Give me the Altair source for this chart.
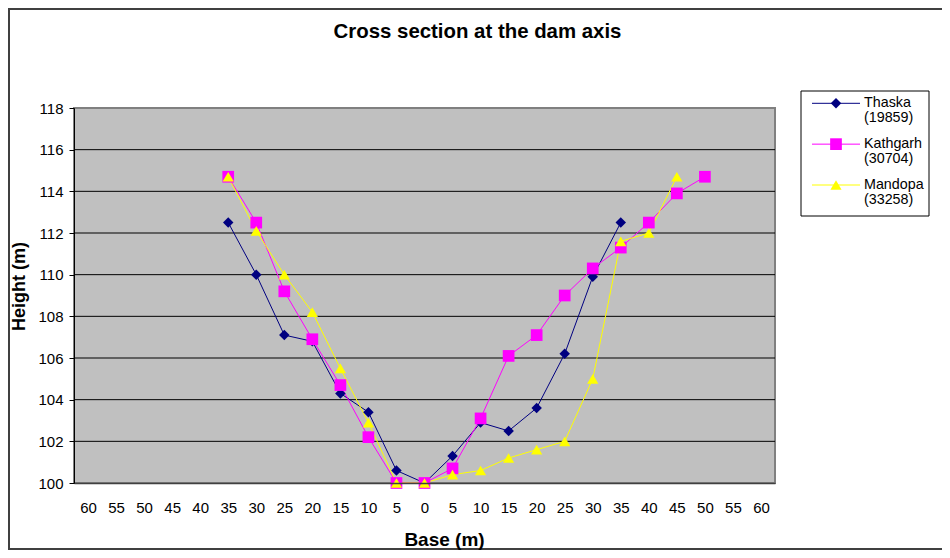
import altair as alt
import pandas as pd

# Category axis: distance from centre line (left side negative), labelled by absolute value
base_offsets = [-60, -55, -50, -45, -40, -35, -30, -25, -20, -15, -10, -5, 0,
                5, 10, 15, 20, 25, 30, 35, 40, 45, 50, 55, 60]
y_ticks = [100, 102, 104, 106, 108, 110, 112, 114, 116, 118]

series_names = ["Thaska (19859)", "Kathgarh (30704)", "Mandopa (33258)"]
series_colors = ["#000080", "#FF00FF", "#FFFF00"]
series_shapes = ["diamond", "square", "triangle-up"]
series_sizes = [110, 137, 125]

thaska_base = [-35, -30, -25, -20, -15, -10, -5, 0, 5, 10, 15, 20, 25, 30, 35]
thaska_height = [112.5, 110.0, 107.1, 106.8, 104.3, 103.4, 100.6, 100.0,
                 101.3, 102.9, 102.5, 103.6, 106.2, 109.9, 112.5]

kathgarh_base = [-35, -30, -25, -20, -15, -10, -5, 0, 5, 10, 15, 20, 25, 30,
                 35, 40, 45, 50]
kathgarh_height = [114.7, 112.5, 109.2, 106.9, 104.7, 102.2, 100.0, 100.0,
                   100.7, 103.1, 106.1, 107.1, 109.0, 110.3, 111.3, 112.5,
                   113.9, 114.7]

mandopa_base = [-35, -30, -25, -20, -15, -10, -5, 0, 5, 10, 15, 20, 25, 30,
                35, 40, 45]
mandopa_height = [114.7, 112.1, 110.0, 108.2, 105.5, 102.9, 100.0, 100.0,
                  100.4, 100.6, 101.2, 101.6, 102.0, 105.0, 111.6, 112.0, 114.7]

rows = []
for s_i, (name, xs, ys) in enumerate(zip(series_names,
                                         [thaska_base, kathgarh_base, mandopa_base],
                                         [thaska_height, kathgarh_height, mandopa_height])):
    for p_i, (bx, hy) in enumerate(zip(xs, ys)):
        rows.append({"series": name, "base": bx, "height": hy,
                     "sorder": s_i, "porder": p_i})
df = pd.DataFrame(rows)
grid_df = pd.DataFrame({"height": y_ticks})
legend_df = pd.DataFrame({"series": series_names, "row": list(range(len(series_names)))})
one_df = pd.DataFrame({"k": [0]})

FONT = "Liberation Sans"

x_enc = alt.X(
    "base:O",
    scale=alt.Scale(type="point", domain=base_offsets, padding=0.5),
    axis=alt.Axis(
        title="Base (m)", labelExpr="abs(datum.value)", labelAngle=0,
        ticks=False, tickSize=0, labelPadding=17, labelFontSize=15,
        labelFont=FONT, labelColor="black", domainColor="#404040",
        domainWidth=1.5, grid=False, zindex=1, titleFont=FONT, titleFontSize=19,
        titleFontWeight="bold", titleColor="black", titleX=370, titleY=62,
        titleBaseline="alphabetic", titleAlign="center",
    ),
)
y_enc = alt.Y(
    "height:Q",
    scale=alt.Scale(domain=[100, 118], nice=False, zero=False),
    axis=alt.Axis(
        title="Height (m)", values=y_ticks, grid=False, zindex=1,
        domainColor="black", domainWidth=1, tickColor="black",
        tickSize=5, labelPadding=6, labelFontSize=15, labelFont=FONT,
        labelColor="black", titleFont=FONT, titleFontSize=18,
        titleFontWeight="bold", titleColor="black", titleX=-50, titleY=178,
        titleAngle=270, titleBaseline="alphabetic", titleAlign="center",
    ),
)

# outer chart frame (right edge runs off the picture, as in the reference)
frame = alt.Chart(one_df).mark_rect(
    filled=False, color="#404040", strokeWidth=2
).encode(x=alt.value(-65), x2=alt.value(885), y=alt.value(-99), y2=alt.value(441))

# plot-area background and border
plot_bg = alt.Chart(one_df).mark_rect(
    fill="#C0C0C0", stroke="#808080", strokeWidth=2
).encode(x=alt.value(0), x2=alt.value("width"), y=alt.value(0), y2=alt.value("height"))

# horizontal gridlines at the inner y ticks
grid = alt.Chart(grid_df).transform_filter(
    (alt.datum.height > 100) & (alt.datum.height < 118)
).mark_rule(color="black", strokeWidth=1).encode(
    y=y_enc, x=alt.value(0), x2=alt.value("width")
)

color_enc = alt.Color("series:N", scale=alt.Scale(domain=series_names, range=series_colors), legend=None)

lines = alt.Chart(df).mark_line(strokeWidth=1).encode(
    x=x_enc, y=y_enc, color=color_enc, order=alt.Order("porder:Q"),
)

point_layers = []
for name, col, shp, sz in zip(series_names, series_colors, series_shapes, series_sizes):
    point_layers.append(
        alt.Chart(df).transform_filter(alt.datum.series == name)
        .mark_point(filled=True, opacity=1, color=col, shape=shp, size=sz)
        .encode(x=x_enc, y=y_enc)
    )

# ----- legend (drawn as marks) -----
legend_base = alt.Chart(legend_df).transform_calculate(ly="-4.7 + datum.row * 40.85")
legend_box = alt.Chart(one_df).mark_rect(
    fill="white", stroke="black", strokeWidth=1
).encode(x=alt.value(727), x2=alt.value(855), y=alt.value(-17), y2=alt.value(108))
legend_lines = legend_base.mark_rule(strokeWidth=1).encode(
    x=alt.value(738), x2=alt.value(786), y=alt.Y("ly:Q", scale=None), color=color_enc
)
legend_marks = []
for name, col, shp, sz in zip(series_names, series_colors, series_shapes, series_sizes):
    legend_marks.append(
        legend_base.transform_filter(alt.datum.series == name)
        .mark_point(filled=True, opacity=1, color=col, shape=shp, size=sz)
        .encode(x=alt.value(762), y=alt.Y("ly:Q", scale=None))
    )
legend_text = legend_base.mark_text(
    align="left", baseline="middle", font=FONT, fontSize=14.3, lineHeight=15,
    lineBreak=" ", color="black"
).encode(x=alt.value(790), y=alt.Y("ly:Q", scale=None), text="series:N")

chart = alt.layer(
    frame, plot_bg, grid, lines, *point_layers,
    legend_box, legend_lines, *legend_marks, legend_text
).properties(
    width=701, height=375,
    padding={"left": 66, "top": 100, "right": 167, "bottom": 67},
    autosize=alt.AutoSizeParams(type="none"),
    background="white",
    title=alt.TitleParams(
        "Cross section at the dam axis", font=FONT, fontSize=20.4,
        fontWeight="bold", color="black", anchor="middle", frame="group",
        baseline="alphabetic", offset=0, dx=53, dy=50,
    ),
).configure_view(
    fill="#C0C0C0", stroke="#808080", strokeWidth=2
)

chart.save("out.html", embed_options={"renderer": "svg", "actions": False})
